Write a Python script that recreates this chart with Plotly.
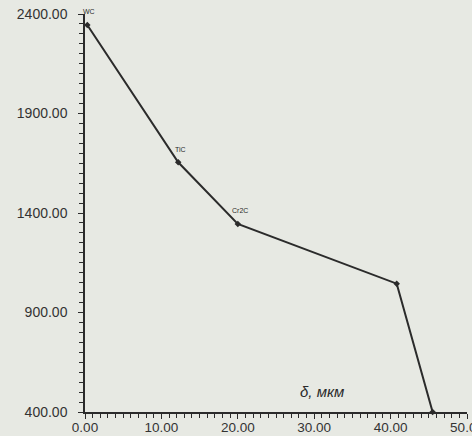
import plotly.graph_objects as go

thickness_um = [0.3, 12.2, 20.0, 40.8, 45.5]
hardness_hv = [2345, 1655, 1345, 1045, 400]
point_labels = ["WC", "TiC", "Cr2C", "", ""]
x_ticks = [0, 10, 20, 30, 40, 50]
y_ticks = [400, 900, 1400, 1900, 2400]

bg = "#e7e9e3"
ink = "#2b2b2b"

fig = go.Figure()
fig.add_trace(go.Scatter(
    x=thickness_um, y=hardness_hv, mode="lines+markers",
    line=dict(color=ink, width=2),
    marker=dict(color=ink, size=5, symbol="diamond"),
    cliponaxis=False, showlegend=False,
))

for xv, yv, lab in zip(thickness_um, hardness_hv, point_labels):
    if lab:
        fig.add_annotation(x=xv, y=yv, text=lab, showarrow=False,
                           yshift=13, xshift=2,
                           font=dict(size=7, color=ink, family="Liberation Sans"))

fig.add_annotation(x=-3.8, y=2124, text="<i>HV</i>", showarrow=False,
                   font=dict(size=22, color=ink, family="Liberation Sans"))
fig.add_annotation(x=31.0, y=505, text="<i>δ, мкм</i>", showarrow=False,
                   font=dict(size=15, color=ink, family="Liberation Sans"))

axis_common = dict(
    showgrid=False, zeroline=False, showline=True, linecolor=ink, linewidth=1.5,
    ticks="outside", tickcolor=ink, tickwidth=1.2, ticklen=5,
    tickformat=".2f", ticklabeloverflow="allow",
)

fig.update_xaxes(range=[0, 50], tickvals=x_ticks, ticklabelstandoff=-3,
                 tickfont=dict(size=13.5, color="#333333", family="Liberation Sans"),
                 minor=dict(dtick=1, ticks="outside", ticklen=4, tickcolor=ink, tickwidth=1),
                 **axis_common)
fig.update_yaxes(range=[400, 2400], tickvals=y_ticks, ticklabelstandoff=8,
                 tickfont=dict(size=14, color="#333333", family="Liberation Sans"),
                 minor=dict(dtick=50, ticks="outside", ticklen=4, tickcolor=ink, tickwidth=1),
                 **axis_common)

fig.update_layout(
    width=472, height=436,
    margin=dict(l=85, r=5, t=14, b=24, autoexpand=False),
    paper_bgcolor=bg, plot_bgcolor=bg,
)
fig.update_xaxes(automargin=False)
fig.update_yaxes(automargin=False)

fig.write_html("out.html", config={"displayModeBar": False},
               post_script="document.body.style.margin='0';document.body.style.background='#e7e9e3';")
